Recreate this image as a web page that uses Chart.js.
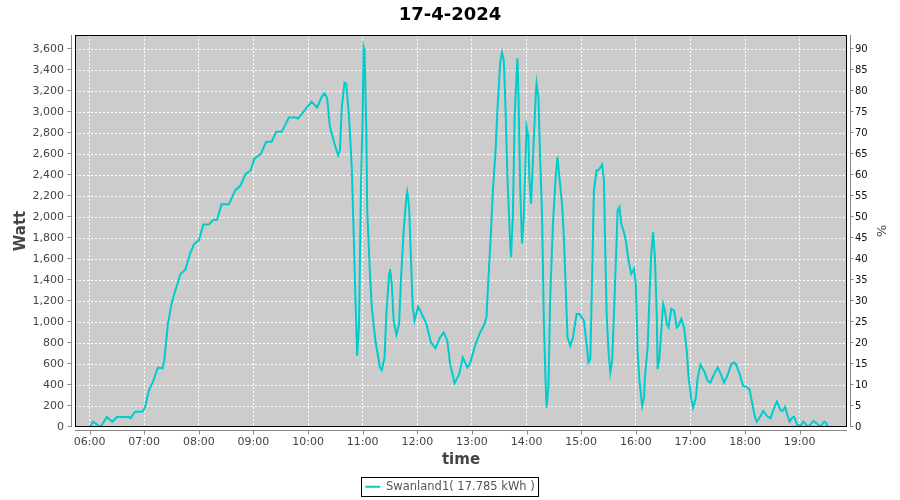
<!DOCTYPE html>
<html>
<head>
<meta charset="utf-8">
<script src="https://cdn.jsdelivr.net/npm/chart.js@4.4.1/dist/chart.umd.min.js"></script>
<style>
  html, body { margin: 0; padding: 0; background: #ffffff; }
  #wrap { width: 900px; height: 500px; }
</style>
</head>
<body>
<div id="wrap"><canvas id="c" width="900" height="500"></canvas></div>
<script>
// ---- data ----
const chartTitle = '17-4-2024';
const seriesName = 'Swanland1( 17.785 kWh )';
const timeTicks = ['06:00','07:00','08:00','09:00','10:00','11:00','12:00','13:00','14:00','15:00','16:00','17:00','18:00','19:00'];
const wattTicks = [0,200,400,600,800,1000,1200,1400,1600,1800,2000,2200,2400,2600,2800,3000,3200,3400,3600];
const pctTicks = [0,5,10,15,20,25,30,35,40,45,50,55,60,65,70,75,80,85,90];
const timeRange = ['05:44', '19:52'];
const wattMax = 3736;
const wattPerPct = 40;

const times = [
 '06:00','06:04','06:12','06:19','06:25','06:30','06:43','06:45','06:50','06:58',
 '07:01','07:05','07:10','07:15','07:20','07:22','07:26','07:30','07:33','07:40',
 '07:45','07:51','07:55','08:00','08:05','08:11','08:16','08:20','08:25','08:33',
 '08:40','08:46','08:51','08:57','09:01','09:08','09:14','09:20','09:25','09:31',
 '09:39','09:46','09:49','09:57','10:04','10:10','10:15','10:18','10:21','10:24',
 '10:29','10:33','10:35','10:37','10:40','10:42','10:45','10:48','10:50','10:52',
 '10:54','10:56','10:58','11:00','11:01','11:02','11:04','11:05','11:08','11:10',
 '11:14','11:19','11:21','11:24','11:26','11:29','11:30','11:32','11:34','11:37',
 '11:40','11:42','11:45','11:48','11:49','11:51','11:53','11:55','11:57','12:01',
 '12:05','12:10','12:15','12:20','12:25','12:29','12:33','12:36','12:41','12:46',
 '12:50','12:55','12:58','13:04','13:09','13:13','13:16','13:18','13:21','13:23',
 '13:26','13:28','13:31','13:33','13:35','13:37','13:39','13:42','13:43','13:45',
 '13:47','13:50','13:51','13:53','13:55','13:57','14:00','14:02','14:03','14:05',
 '14:07','14:10','14:11','14:13','14:15','14:17','14:19','14:21','14:22','14:24',
 '14:26','14:29','14:32','14:34','14:36','14:39','14:41','14:43','14:45','14:48',
 '14:51','14:55','14:58','15:03','15:06','15:08','15:10','15:12','15:14','15:17',
 '15:19','15:23','15:25','15:26','15:28','15:30','15:32','15:34','15:36','15:38',
 '15:40','15:42','15:44','15:47','15:49','15:52','15:55','15:58','16:00','16:02',
 '16:04','16:07','16:09','16:10','16:13','16:15','16:17','16:19','16:21','16:23',
 '16:24','16:26','16:28','16:30','16:32','16:34','16:36','16:39','16:42','16:45',
 '16:47','16:50','16:53','16:56','16:58','17:01','17:03','17:06','17:08','17:11',
 '17:15','17:19','17:22','17:26','17:30','17:33','17:37','17:41','17:45','17:48',
 '17:50','17:54','17:58','18:01','18:05','18:08','18:11','18:13','18:17','18:20',
 '18:24','18:28','18:32','18:35','18:39','18:41','18:44','18:46','18:49','18:52',
 '18:54','18:57','19:01','19:04','19:07','19:09','19:12','19:15','19:18','19:22',
 '19:24','19:27','19:29','19:31'
];
const watts = [
 0,50,0,95,50,95,95,85,146,146,
 190,344,440,567,560,630,980,1173,1268,1460,
 1497,1666,1746,1778,1930,1930,1975,1975,2122,2122,
 2255,2303,2408,2447,2558,2600,2718,2718,2813,2813,
 2950,2950,2940,3027,3100,3045,3147,3180,3132,2861,
 2702,2590,2638,3036,3281,3270,2956,2478,1873,1236,
 679,985,2255,2956,3625,3594,2829,2064,1460,1140,
 822,567,542,662,1077,1460,1507,1364,1013,879,
 981,1395,1873,2192,2240,2096,1618,1140,1013,1147,
 1077,981,806,752,853,901,822,599,418,504,
 662,567,610,790,901,965,1045,1395,1873,2255,
 2638,3020,3466,3568,3498,3020,2383,1746,1618,2033,
 2989,3514,3212,2287,1746,2000,2861,2770,2383,2128,
 2542,3147,3275,3147,2542,2033,1013,408,185,376,
 1236,1937,2383,2574,2383,2128,1809,1331,853,774,
 853,1077,1077,1013,790,615,647,1427,2255,2447,
 2447,2500,2350,1873,1077,726,519,631,1077,1555,
 2064,2096,1937,1857,1778,1587,1460,1507,1364,726,
 440,201,280,471,758,1236,1651,1857,1618,1077,
 551,662,917,1173,1109,981,949,1125,1109,949,
 965,1029,949,726,471,265,185,280,471,593,
 535,440,423,504,567,510,423,500,600,615,
 599,504,392,382,360,217,89,51,105,153,
 105,83,185,242,160,150,191,127,51,89,
 96,26,10,51,26,0,26,57,40,6,
 19,51,38,0
];

// ---- helpers ----
function toMin(t) { const p = t.split(':'); return (+p[0]) * 60 + (+p[1]); }
function fmtMin(m) { const h = Math.floor(m / 60), mm = Math.round(m % 60); return String(h).padStart(2,'0') + ':' + String(mm).padStart(2,'0'); }

const points = times.map((t, i) => ({ x: toMin(t), y: watts[i] }));

const FONT = 'DejaVu Sans';
const LINE = '#00cccc';

const plotDeco = {
  id: 'plotDeco',
  beforeDraw(chart) {
    const { ctx, chartArea: a } = chart;
    ctx.save();
    ctx.fillStyle = '#cccccc';
    ctx.fillRect(a.left, a.top, a.right - a.left, a.bottom - a.top);
    ctx.restore();
  },
  afterDraw(chart) {
    const { ctx, chartArea: a, scales } = chart;
    ctx.save();
    // plot outline
    ctx.strokeStyle = '#000000';
    ctx.lineWidth = 1;
    ctx.strokeRect(a.left + 0.5, a.top + 0.5, a.right - a.left - 1, a.bottom - a.top - 1);
    // offset axis lines and tick marks
    ctx.strokeStyle = '#888888';
    ctx.beginPath();
    const lx = a.left - 3.5, rx = a.right + 3.5, by = a.bottom + 3.5;
    ctx.moveTo(lx, a.top); ctx.lineTo(lx, a.bottom);
    ctx.moveTo(rx, a.top); ctx.lineTo(rx, a.bottom);
    ctx.moveTo(a.left, by); ctx.lineTo(a.right, by);
    scales.y.ticks.forEach(t => {
      const y = Math.round(scales.y.getPixelForValue(t.value)) - 0.5;
      ctx.moveTo(lx - 4, y); ctx.lineTo(lx, y);
    });
    scales.y2.ticks.forEach(t => {
      const y = Math.round(scales.y2.getPixelForValue(t.value)) - 0.5;
      ctx.moveTo(rx, y); ctx.lineTo(rx + 3, y);
    });
    scales.x.ticks.forEach(t => {
      const x = Math.round(scales.x.getPixelForValue(t.value)) + 0.5;
      ctx.moveTo(x, by); ctx.lineTo(x, by + 4);
    });
    ctx.stroke();
    // legend frame
    const lg = chart.legend;
    if (lg && lg.legendHitBoxes && lg.legendHitBoxes.length) {
      const h = lg.legendHitBoxes[0];
      ctx.strokeStyle = '#000000';
      ctx.lineWidth = 1;
      ctx.strokeRect(Math.round(h.left) - 3.5, Math.round(h.top) - 3.5, Math.round(h.width) + 8, Math.round(h.height) + 7);
    }
    ctx.restore();
  }
};

new Chart(document.getElementById('c'), {
  type: 'line',
  data: {
    datasets: [{
      label: seriesName,
      data: points,
      borderColor: LINE,
      backgroundColor: LINE,
      borderWidth: 2,
      pointRadius: 0,
      tension: 0,
      fill: false,
      yAxisID: 'y'
    }]
  },
  options: {
    responsive: false,
    animation: false,
    devicePixelRatio: 1,
    layout: { padding: { top: 0, left: 0, right: 0, bottom: -2.5 } },
    plugins: {
      title: {
        display: true,
        text: chartTitle,
        color: '#000000',
        font: { family: FONT, size: 18, weight: 'bold' },
        padding: { top: 5, bottom: 8.4 }
      },
      legend: {
        display: true,
        position: 'bottom',
        labels: {
          color: '#555555',
          font: { family: FONT, size: 11.5 },
          usePointStyle: true,
          pointStyle: 'line',
          pointStyleWidth: 15,
          boxHeight: 12,
          padding: 8
        }
      },
      tooltip: { enabled: false }
    },
    scales: {
      x: {
        type: 'linear',
        min: toMin(timeRange[0]),
        max: toMin(timeRange[1]),
        afterBuildTicks: s => { s.ticks = timeTicks.map(t => ({ value: toMin(t) })); },
        afterFit: s => { s.height = 46; },
        ticks: {
          autoSkip: false,
          maxRotation: 0,
          color: '#444444',
          font: { family: FONT, size: 11 },
          padding: 9,
          callback: v => fmtMin(v)
        },
        grid: { color: '#ffffff', lineWidth: 1, drawTicks: false },
        border: { display: false, dash: [2, 2] },
        title: {
          display: true,
          text: 'time',
          color: '#444444',
          font: { family: FONT, size: 15, weight: 'bold' },
          padding: { top: 0, bottom: 3.5 }
        }
      },
      y: {
        type: 'linear',
        position: 'left',
        min: 0,
        max: wattMax,
        afterBuildTicks: s => { s.ticks = wattTicks.map(v => ({ value: v })); },
        afterFit: s => { s.width = 75; },
        ticks: {
          color: '#444444',
          font: { family: FONT, size: 11 },
          padding: 11,
          callback: v => v.toLocaleString('en-US')
        },
        grid: { color: '#ffffff', lineWidth: 1, drawTicks: false },
        border: { display: false, dash: [2, 2] },
        title: {
          display: true,
          text: 'Watt',
          color: '#444444',
          font: { family: FONT, size: 15, weight: 'bold' },
          padding: { top: 12, bottom: 0 }
        }
      },
      y2: {
        type: 'linear',
        position: 'right',
        min: 0,
        max: wattMax / wattPerPct,
        afterBuildTicks: s => { s.ticks = pctTicks.map(v => ({ value: v })); },
        afterFit: s => { s.width = 53; },
        ticks: {
          color: '#111111',
          font: { family: FONT, size: 10 },
          padding: 8,
          callback: v => String(v)
        },
        grid: { drawOnChartArea: false, drawTicks: false },
        border: { display: false },
        title: {
          display: true,
          text: '%',
          color: '#444444',
          font: { family: FONT, size: 13 },
          padding: { top: 12, bottom: 0 }
        }
      }
    }
  },
  plugins: [plotDeco]
});
</script>
</body>
</html>
